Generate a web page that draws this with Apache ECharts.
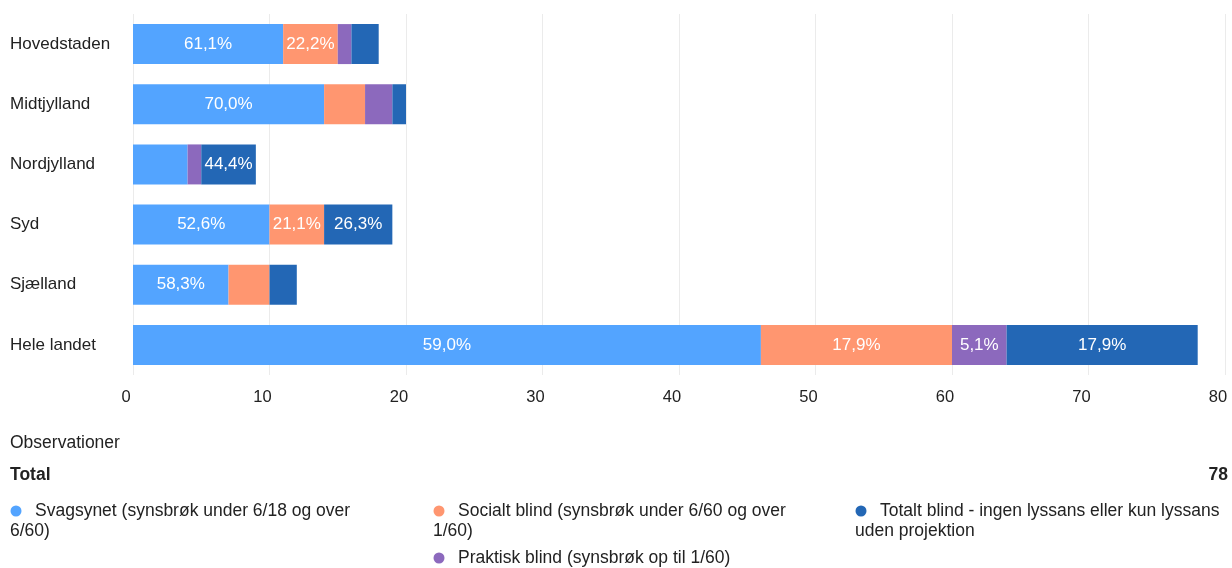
<!DOCTYPE html>
<html>
<head>
<meta charset="utf-8">
<script src="https://cdn.jsdelivr.net/npm/echarts@6/dist/echarts.min.js"></script>
<style>html,body{margin:0;padding:0;background:#fff;}#c{width:1232px;height:568px;}</style>
</head>
<body>
<div id="c"></div>
<script>
const categories = ['Hovedstaden', 'Midtjylland', 'Nordjylland', 'Syd', 'Sjælland', 'Hele landet'];
const seriesNames = [
  'Svagsynet (synsbrøk under 6/18 og over 6/60)',
  'Socialt blind (synsbrøk under 6/60 og over 1/60)',
  'Praktisk blind (synsbrøk op til 1/60)',
  'Totalt blind - ingen lyssans eller kun lyssans uden projektion'
];
const svagsynet = [11, 14, 4, 10, 7, 46];
const socialtBlind = [4, 3, 0, 4, 3, 14];
const praktiskBlind = [1, 2, 1, 0, 0, 4];
const totaltBlind = [2, 1, 4, 5, 2, 14];
// which segment labels are displayed in the reference
const showSvag = [true, true, false, true, true, true];
const showSocial = [true, false, false, true, false, true];
const showPraktisk = [false, false, false, false, false, true];
const showTotalt = [false, false, true, true, false, true];
const xTicks = [0, 10, 20, 30, 40, 50, 60, 70, 80];
const totalLabel = 'Total';
const totalValue = 78;
const colors = ['#53a4ff', '#ff9670', '#8c69bd', '#2367b5'];

const FONT = 'Liberation Sans, Arial, sans-serif';
const allSeries = [svagsynet, socialtBlind, praktiskBlind, totaltBlind];
const allShow = [showSvag, showSocial, showPraktisk, showTotalt];
const rowTotals = categories.map((_, i) => allSeries.reduce((s, a) => s + a[i], 0));

const chart = echarts.init(document.getElementById('c'));

const series = allSeries.map((vals, si) => ({
  name: seriesNames[si],
  type: 'bar',
  stack: 'total',
  barWidth: 40,
  itemStyle: { color: colors[si] },
  data: vals.map((v, i) => ({
    value: v,
    label: {
      show: allShow[si][i],
      position: 'inside',
      color: '#fff',
      fontSize: 17,
      fontFamily: FONT,
      formatter: () => (v / rowTotals[i] * 100).toFixed(1).replace('.', ',') + '%'
    }
  }))
}));

const LFONT = '17.5px ' + FONT;
const ctx = document.createElement('canvas').getContext('2d');
ctx.font = LFONT;
function wrap(text, firstWidth, width) {
  const words = text.split(' ');
  const lines = [];
  let cur = '';
  let limit = firstWidth;
  for (const w of words) {
    const t = cur ? cur + ' ' + w : w;
    if (ctx.measureText(t).width > limit && cur) {
      lines.push(cur);
      cur = w;
      limit = width;
    } else cur = t;
  }
  lines.push(cur);
  return lines;
}
const legendPos = [[10, 511], [433, 511], [433, 558], [855, 511]];
const graphics = [
  { type: 'text', left: 10, top: 434, style: { text: 'Observationer', font: LFONT, fill: '#222' } },
  { type: 'text', left: 10, top: 466, style: { text: totalLabel, font: 'bold ' + LFONT, fill: '#222' } },
  { type: 'text', right: 4, top: 466, style: { text: String(totalValue), font: 'bold ' + LFONT, fill: '#222', align: 'right' } }
];
seriesNames.forEach((n, si) => {
  const [x, y] = legendPos[si];
  graphics.push({ type: 'circle', shape: { cx: x + 6, cy: y, r: 5.5 }, style: { fill: colors[si] } });
  const lines = wrap(n, 350, 370);
  lines.forEach((ln, li) => {
    graphics.push({
      type: 'text',
      x: li === 0 ? x + 25 : x,
      y: y + li * 20,
      style: { text: ln, font: LFONT, fill: '#222', verticalAlign: 'middle' }
    });
  });
});

chart.setOption({
  animation: false,
  backgroundColor: '#fff',
  grid: { left: 133, right: 7, top: 14, bottom: 193, containLabel: false },
  xAxis: {
    type: 'value',
    min: xTicks[0],
    max: xTicks[xTicks.length - 1],
    interval: 10,
    axisLine: { show: false },
    axisTick: { show: false },
    splitLine: { lineStyle: { color: '#ebebeb', width: 1 } },
    axisLabel: { color: '#222', fontSize: 16.5, fontFamily: FONT, margin: 14, padding: [0, 14, 0, 0] }
  },
  yAxis: {
    type: 'category',
    data: categories,
    inverse: true,
    axisLine: { show: false },
    axisTick: { show: false },
    axisLabel: { color: '#222', fontSize: 17, fontFamily: FONT, align: 'left', margin: 123, padding: [3, 0, 0, 0] }
  },
  legend: { show: false },
  series: series,
  graphic: graphics
});
</script>
</body>
</html>
